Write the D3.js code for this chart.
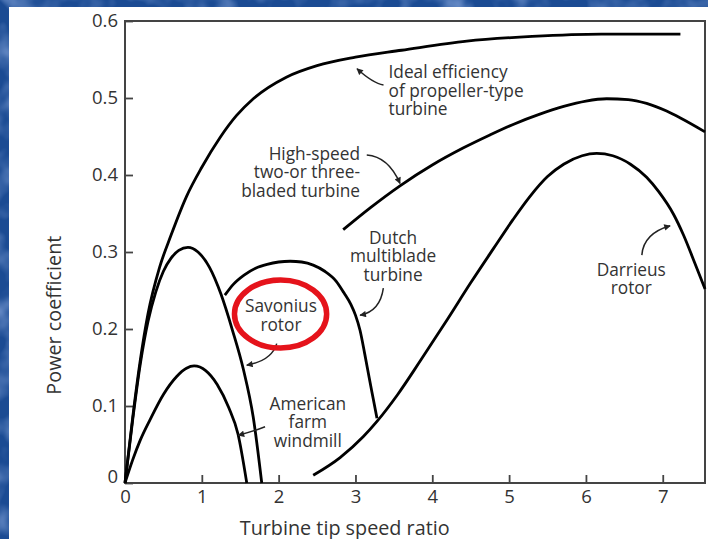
<!DOCTYPE html>
<html>
<head>
<meta charset="utf-8">
<script src="https://cdn.jsdelivr.net/npm/d3@7"></script>
<style>
  html, body { margin: 0; padding: 0; overflow: hidden; background: #1b4b93; }
  svg { display: block; }
  text { font-family: "Open Sans", "DejaVu Sans", sans-serif; fill: #333; }
</style>
</head>
<body>
<svg id="chart" width="708" height="539"></svg>
<script>
// Axis ticks
const xTickValues = [0, 1, 2, 3, 4, 5, 6, 7];
const yTickValues = [0, 0.1, 0.2, 0.3, 0.4, 0.5, 0.6];
const yTickLabels = ["0", "0.1", "0.2", "0.3", "0.4", "0.5", "0.6"];

// Power coefficient curves (tip speed ratio, Cp)
const idealTsr = [0, 0.1, 0.2, 0.3, 0.45, 0.6, 0.8, 1.0, 1.24, 1.45, 1.67, 2.1, 2.5, 3.0, 3.6, 4.45, 5.3, 6.2, 7.23];
const idealCp  = [0, 0.085, 0.16, 0.22, 0.28, 0.322, 0.372, 0.41, 0.449, 0.477, 0.499, 0.527, 0.542, 0.553, 0.562, 0.574, 0.58, 0.583, 0.583];

const highSpeedTsr = [2.84, 3.2, 3.58, 4.0, 4.4, 4.75, 5.06, 5.4, 5.71, 6.0, 6.27, 6.55, 6.79, 7.05, 7.23, 7.55];
const highSpeedCp  = [0.329, 0.358, 0.386, 0.413, 0.435, 0.452, 0.466, 0.479, 0.489, 0.496, 0.499, 0.498, 0.493, 0.483, 0.474, 0.456];

const savoniusTsr = [0, 0.1, 0.2, 0.3, 0.4, 0.5, 0.6, 0.7, 0.82, 0.95, 1.1, 1.25, 1.4, 1.54, 1.67, 1.78];
const savoniusCp  = [0, 0.082, 0.155, 0.21, 0.248, 0.275, 0.292, 0.302, 0.306, 0.3, 0.28, 0.245, 0.198, 0.148, 0.085, 0];

const americanTsr = [0, 0.1, 0.2, 0.33, 0.5, 0.67, 0.8, 0.9, 1.05, 1.2, 1.35, 1.47, 1.585];
const americanCp  = [0, 0.03, 0.056, 0.083, 0.115, 0.138, 0.149, 0.152, 0.146, 0.128, 0.098, 0.064, 0];

const dutchTsr = [1.30, 1.41, 1.55, 1.7, 1.85, 2.0, 2.15, 2.3, 2.45, 2.6, 2.75, 2.85, 2.94, 3.0, 3.06, 3.12, 3.18, 3.23, 3.28];
const dutchCp  = [0.244, 0.258, 0.27, 0.279, 0.284, 0.287, 0.288, 0.287, 0.283, 0.275, 0.262, 0.247, 0.232, 0.218, 0.198, 0.168, 0.136, 0.11, 0.084];

const darrieusTsr = [2.45, 2.8, 3.1, 3.28, 3.55, 3.84, 4.2, 4.5, 4.8, 5.05, 5.27, 5.5, 5.71, 5.95, 6.14, 6.35, 6.58, 6.79, 6.95, 7.14, 7.27, 7.4, 7.55];
const darrieusCp  = [0.01, 0.033, 0.06, 0.08, 0.115, 0.158, 0.213, 0.26, 0.305, 0.342, 0.372, 0.398, 0.414, 0.425, 0.428, 0.425, 0.414, 0.397, 0.378, 0.349, 0.322, 0.29, 0.252];

// Curve labels: text lines, anchor point (tsr, Cp) of the first baseline, alignment
const labelNames  = ["ideal", "highSpeed", "dutch", "savonius", "american", "darrieus"];
const labelLines  = [
  ["Ideal efficiency", "of propeller-type", "turbine"],
  ["High-speed", "two-or three-", "bladed turbine"],
  ["Dutch", "multiblade", "turbine"],
  ["Savonius", "rotor"],
  ["American", "farm", "windmill"],
  ["Darrieus", "rotor"]
];
const labelTsr    = [3.43, 3.06, 3.49, 2.03, 2.38, 6.59];
const labelCp     = [0.526, 0.420, 0.311, 0.222, 0.095, 0.269];
const labelAnchor = ["start", "end", "middle", "middle", "middle", "middle"];

// Leader arrows: start, control and tip points in (tsr, Cp)
const arrowStart = [[3.365, 0.517], [3.147, 0.426], [3.363, 0.253], [1.975, 0.181], [1.823, 0.073], [6.728, 0.296]];
const arrowCtrl  = [[3.23, 0.519], [3.428, 0.424], [3.32, 0.2225], [1.91, 0.159], [1.67, 0.067], [6.749, 0.324]];
const arrowTip   = [[3.02, 0.538], [3.58, 0.389], [3.06, 0.218], [1.585, 0.153], [1.475, 0.062], [7.096, 0.334]];

// Highlight ring around the Savonius label
const ringCenter = [2.025, 0.2195];
const ringRadiusTsr = 0.6;
const ringRadiusCp = 0.0442;

const svg = d3.select("#chart");
const W = 708, H = 539;
const plot = { left: 125, right: 705, top: 21, bottom: 483 };

const x = d3.scaleLinear().domain([0, 7.55]).range([plot.left, plot.right]);
const y = d3.scaleLinear().domain([0, 0.6]).range([plot.bottom, plot.top]);

// Slide background with a mottled texture
const defs = svg.append("defs");
const mottle = defs.append("filter").attr("id", "mottle").attr("x", 0).attr("y", 0).attr("width", 1).attr("height", 1);
mottle.append("feTurbulence").attr("type", "fractalNoise").attr("baseFrequency", 0.03).attr("numOctaves", 3).attr("seed", 7);
mottle.append("feColorMatrix").attr("type", "matrix")
  .attr("values", "0 0 0 0 0.4  0 0 0 0 0.55  0 0 0 0 0.9  0 0 0 1.2 -0.5");

defs.append("marker").attr("id", "arrowhead")
  .attr("viewBox", "0 0 10 10").attr("refX", 9).attr("refY", 5)
  .attr("markerWidth", 8).attr("markerHeight", 6.5).attr("markerUnits", "userSpaceOnUse")
  .attr("orient", "auto")
  .append("path").attr("d", "M0,0 L10,5 L0,10 Z").attr("fill", "#222");

svg.append("rect").attr("width", W).attr("height", H).attr("fill", "#1b4b93");
svg.append("rect").attr("width", W).attr("height", H).attr("filter", "url(#mottle)");

// White slide panel
svg.append("rect").attr("x", 9).attr("y", 7).attr("width", W - 9).attr("height", H - 7).attr("fill", "#ffffff");

// Axes (ticks point into the plot)
const xAxis = d3.axisBottom(x).tickValues(xTickValues).tickFormat(d3.format("d"))
  .tickSizeInner(-8).tickSizeOuter(0).tickPadding(7);
const yAxis = d3.axisLeft(y).tickValues(yTickValues).tickFormat((d, i) => yTickLabels[i])
  .tickSizeInner(-8).tickSizeOuter(0).tickPadding(7);

const gx = svg.append("g").attr("transform", `translate(0,${plot.bottom})`).call(xAxis);
const gy = svg.append("g").attr("transform", `translate(${plot.left},0)`).call(yAxis);
[gx, gy].forEach(g => {
  g.select(".domain").remove();
  g.selectAll(".tick line").attr("stroke", "#444").attr("stroke-width", 1.8);
  g.selectAll(".tick text").attr("font-family", "Open Sans").attr("font-size", 18.5).attr("fill", "#333");
});
gy.selectAll(".tick text").filter(d => d === 0).attr("dy", "-0.05em");

// Frame
svg.append("rect")
  .attr("x", plot.left).attr("y", plot.top)
  .attr("width", plot.right - plot.left).attr("height", plot.bottom - plot.top)
  .attr("fill", "none").attr("stroke", "#444").attr("stroke-width", 2);

// Curves
const line = d3.line().x(d => x(d[0])).y(d => y(d[1])).curve(d3.curveMonotoneX);
const series = [
  [idealTsr, idealCp],
  [highSpeedTsr, highSpeedCp],
  [savoniusTsr, savoniusCp],
  [americanTsr, americanCp],
  [dutchTsr, dutchCp],
  [darrieusTsr, darrieusCp]
];
svg.append("g").selectAll("path").data(series).join("path")
  .attr("d", s => line(s[0].map((t, i) => [t, s[1][i]])))
  .attr("fill", "none").attr("stroke", "#000").attr("stroke-width", 2.8)
  .attr("stroke-linecap", "butt").attr("stroke-linejoin", "round");

// Curve labels
const labels = svg.append("g");
labelNames.forEach((name, i) => {
  const t = labels.append("text")
    .attr("x", x(labelTsr[i])).attr("y", y(labelCp[i]))
    .attr("text-anchor", labelAnchor[i])
    .attr("font-size", 17.3).attr("fill", "#333");
  labelLines[i].forEach((ln, j) => {
    t.append("tspan").attr("x", x(labelTsr[i])).attr("dy", j === 0 ? 0 : 18.6).text(ln);
  });
});

// Leader arrows
svg.append("g").selectAll("path").data(d3.range(arrowTip.length)).join("path")
  .attr("d", i => {
    const p = d3.path();
    p.moveTo(x(arrowStart[i][0]), y(arrowStart[i][1]));
    p.quadraticCurveTo(x(arrowCtrl[i][0]), y(arrowCtrl[i][1]), x(arrowTip[i][0]), y(arrowTip[i][1]));
    return p.toString();
  })
  .attr("fill", "none").attr("stroke", "#222").attr("stroke-width", 1.5)
  .attr("marker-end", "url(#arrowhead)");

// Red ring around the Savonius label
svg.append("ellipse")
  .attr("cx", x(ringCenter[0])).attr("cy", y(ringCenter[1]))
  .attr("rx", x(ringRadiusTsr) - x(0)).attr("ry", y(0) - y(ringRadiusCp))
  .attr("fill", "none").attr("stroke", "#e5131b").attr("stroke-width", 5.5);

// Axis titles
svg.append("text")
  .attr("x", x(2.86)).attr("y", 534.5)
  .attr("text-anchor", "middle").attr("font-size", 19.8)
  .text("Turbine tip speed ratio");
svg.append("text")
  .attr("transform", `translate(61,${y(0.218)}) rotate(-90)`)
  .attr("text-anchor", "middle").attr("font-size", 19.8)
  .text("Power coefficient");
</script>
</body>
</html>
